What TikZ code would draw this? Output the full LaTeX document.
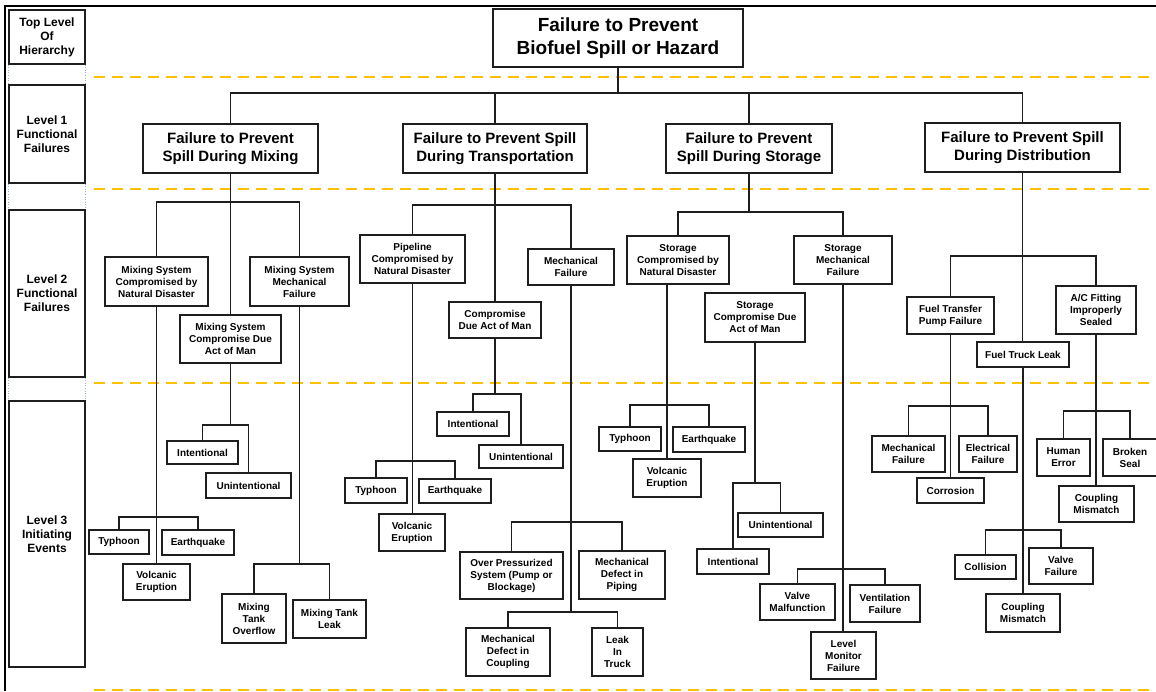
\documentclass[tikz,border=0pt]{standalone}
\usepackage{fontspec}
\setmainfont{Liberation Sans}
\definecolor{dashorange}{RGB}{255,192,0}
\definecolor{edge}{RGB}{30,30,30}
\definecolor{dotblue}{RGB}{150,180,205}
\newcommand\mybox[7][box]{\node[#1, minimum width={(#5-#3)*1pt}, minimum height={(#6-#4)*1pt}] (#2) at ({(#3+#5)/2},{(#4+#6)/2}) {#7};}
\begin{document}
\begin{tikzpicture}[x=1pt,y=-1pt,
  box/.style={draw=edge, line width=1.3pt, fill=white, align=center, inner sep=0pt, font=\bfseries\fontsize{10}{12}\selectfont},
  lvlbox/.style={box, font=\bfseries\fontsize{12}{14}\selectfont},
  onebox/.style={box, font=\bfseries\fontsize{15}{18}\selectfont},
  topbox/.style={box, font=\bfseries\fontsize{19}{22.5}\selectfont},
  conn/.style={draw=edge, line width=1.3pt},
  sep/.style={draw=dashorange, line width=2.6pt, dash pattern=on 11pt off 7pt},
  frame/.style={draw=black, line width=2pt}]
\useasboundingbox (0,0) rectangle (1156,691);
% frame
\coordinate (fTL) at (5,6);
\coordinate (fTR) at (1156,6);
\coordinate (fBL) at (5,691);
\draw[frame] (fBL) -- (fTL) -- (fTR);
% separators
\foreach \yy in {77,189,383,690}{\draw[sep] (94,\yy) -- (1156,\yy);}
% bus levels
\coordinate (y1) at (0,93);
\coordinate (ym) at (0,202);  \coordinate (yma) at (0,425); \coordinate (ymt) at (0,517); \coordinate (ymk) at (0,564);
\coordinate (yt) at (0,205);  \coordinate (yta) at (0,394); \coordinate (ytt) at (0,461); \coordinate (ytm1) at (0,522); \coordinate (ytm2) at (0,612);
\coordinate (ys) at (0,212);  \coordinate (ysn) at (0,405); \coordinate (ysa) at (0,483); \coordinate (ysm) at (0,569);
\coordinate (yd) at (0,256);  \coordinate (ydp) at (0,406); \coordinate (ydt) at (0,530); \coordinate (yda) at (0,411);

% ---------- nodes ----------
\mybox[lvlbox]{L0}{9}{10}{85}{64}{Top Level\\Of\\Hierarchy}
\mybox[lvlbox]{L1}{9}{85}{85}{183}{Level 1\\Functional\\Failures}
\mybox[lvlbox]{L2}{9}{210}{85}{377}{Level 2\\Functional\\Failures}
\mybox[lvlbox]{L3}{9}{401}{85}{667}{Level 3\\Initiating\\Events}
\draw[dotblue, dotted, line width=0.6pt] (L0.south west) -- (L1.north west) (L1.south west) -- (L2.north west) (L2.south west) -- (L3.north west);
\draw[dotblue, dotted, line width=0.6pt] (L0.south east) -- (L1.north east) (L1.south east) -- (L2.north east) (L2.south east) -- (L3.north east);

\mybox[topbox]{top}{493}{9}{743}{67}{Failure to Prevent\\Biofuel Spill or Hazard}

\mybox[onebox]{mix}{143}{124}{318}{173}{Failure to Prevent\\Spill During Mixing}
\mybox[onebox]{tra}{403}{124}{587}{173}{Failure to Prevent Spill\\During Transportation}
\mybox[onebox]{sto}{666}{124}{832}{173}{Failure to Prevent\\Spill During Storage}
\mybox[onebox]{dis}{925}{123}{1120}{172}{Failure to Prevent Spill\\During Distribution}

% mixing
\mybox{mnat}{105}{257}{208}{306}{Mixing System\\Compromised by\\Natural Disaster}
\mybox{mmech}{250}{257}{349}{306}{Mixing System\\Mechanical\\Failure}
\mybox{mact}{180}{315}{281}{363}{Mixing System\\Compromise Due\\Act of Man}
\mybox{mint}{167}{441}{238}{464}{Intentional}
\mybox{muni}{206}{473}{291}{498}{Unintentional}
\mybox{mtyp}{89}{530}{149}{554}{Typhoon}
\mybox{meq}{162}{530}{234}{555}{Earthquake}
\mybox{mvol}{123}{564}{190}{600}{Volcanic\\Eruption}
\mybox{movf}{222}{594}{286}{643}{Mixing\\Tank\\Overflow}
\mybox{mleak}{293}{600}{366}{638}{Mixing Tank\\Leak}

% transportation
\mybox{tnat}{360}{235}{465}{283}{Pipeline\\Compromised by\\Natural Disaster}
\mybox{tmech}{528}{249}{614}{285}{Mechanical\\Failure}
\mybox{tact}{449}{302}{541}{338}{Compromise\\Due Act of Man}
\mybox{tint}{437}{412}{509}{436}{Intentional}
\mybox{tuni}{479}{445}{563}{468}{Unintentional}
\mybox{ttyp}{345}{478}{407}{503}{Typhoon}
\mybox{teq}{419}{479}{491}{503}{Earthquake}
\mybox{tvol}{379}{514}{445}{551}{Volcanic\\Eruption}
\mybox{tover}{460}{552}{563}{599}{Over Pressurized\\System (Pump or\\Blockage)}
\mybox{tpipe}{579}{551}{665}{599}{Mechanical\\Defect in\\Piping}
\mybox{tcoup}{466}{628}{550}{676}{Mechanical\\Defect in\\Coupling}
\mybox{ttruck}{592}{628}{643}{676}{Leak\\In\\Truck}

% storage
\mybox{snat}{627}{236}{729}{284}{Storage\\Compromised by\\Natural Disaster}
\mybox{smech}{794}{236}{892}{284}{Storage\\Mechanical\\Failure}
\mybox{sact}{705}{293}{805}{342}{Storage\\Compromise Due\\Act of Man}
\mybox{styp}{599}{427}{661}{451}{Typhoon}
\mybox{seq}{673}{427}{745}{452}{Earthquake}
\mybox{svol}{633}{459}{701}{497}{Volcanic\\Eruption}
\mybox{suni}{738}{513}{823}{537}{Unintentional}
\mybox{sint}{697}{549}{769}{574}{Intentional}
\mybox{svalve}{760}{584}{835}{620}{Valve\\Malfunction}
\mybox{svent}{850}{585}{920}{622}{Ventilation\\Failure}
\mybox{slevel}{811}{632}{876}{679}{Level\\Monitor\\Failure}

% distribution
\mybox{dpump}{907}{297}{994}{334}{Fuel Transfer\\Pump Failure}
\mybox{dac}{1056}{286}{1136}{334}{A/C Fitting\\Improperly\\Sealed}
\mybox{dtruck}{977}{342}{1069}{367}{Fuel Truck Leak}
\mybox{dmech}{872}{436}{945}{472}{Mechanical\\Failure}
\mybox{delec}{959}{436}{1017}{472}{Electrical\\Failure}
\mybox{dcorr}{917}{478}{984}{503}{Corrosion}
\mybox{dcoll}{955}{555}{1016}{579}{Collision}
\mybox{dvalve}{1029}{548}{1093}{584}{Valve\\Failure}
\mybox{dcoupt}{986}{594}{1060}{632}{Coupling\\Mismatch}
\mybox{dhum}{1037}{439}{1090}{476}{Human\\Error}
\mybox{dseal}{1103}{439}{1157}{476}{Broken\\Seal}
\mybox{dcoupa}{1059}{486}{1134}{522}{Coupling\\Mismatch}

% ---------- connectors ----------
\draw[conn] (top.south) -- (top.south |- y1);
\draw[conn] (mix.north) -- (mix.north |- y1) -- (dis.north |- y1) -- (dis.north);
\draw[conn] (tra.north) -- (tra.north |- y1);
\draw[conn] (sto.north) -- (sto.north |- y1);

% mixing
\draw[conn] (mix.south) -- (mact.north);
\draw[conn] (mnat.north) -- (mnat.north |- ym) -- (mmech.north |- ym) -- (mmech.north);
\draw[conn] (mact.south) -- (mact.south |- yma);
\draw[conn] (mint.north) -- (mint.north |- yma) -- (muni.north |- yma) -- (muni.north);
\draw[conn] (mnat.south) -- (mvol.north);
\draw[conn] (mtyp.north) -- (mtyp.north |- ymt) -- (meq.north |- ymt) -- (meq.north);
\draw[conn] (mmech.south) -- (mmech.south |- ymk);
\draw[conn] (movf.north) -- (movf.north |- ymk) -- (mleak.north |- ymk) -- (mleak.north);

% transportation
\draw[conn] (tra.south) -- (tact.north);
\draw[conn] (tnat.north) -- (tnat.north |- yt) -- (tmech.north |- yt) -- (tmech.north);
\draw[conn] (tact.south) -- (tact.south |- yta);
\draw[conn] (tint.north) -- (tint.north |- yta) -- (tuni.north |- yta) -- (tuni.north);
\draw[conn] (tnat.south) -- (tnat.south |- tvol.north);
\draw[conn] (ttyp.north) -- (ttyp.north |- ytt) -- (teq.north |- ytt) -- (teq.north);
\draw[conn] (tmech.south) -- (tmech.south |- ytm2);
\draw[conn] (tover.north) -- (tover.north |- ytm1) -- (tpipe.north |- ytm1) -- (tpipe.north);
\draw[conn] (tcoup.north) -- (tcoup.north |- ytm2) -- (ttruck.north |- ytm2) -- (ttruck.north);

% storage
\draw[conn] (sto.south) -- (sto.south |- ys);
\draw[conn] (snat.north) -- (snat.north |- ys) -- (smech.north |- ys) -- (smech.north);
\draw[conn] (snat.south -| svol.north) -- (svol.north);
\draw[conn] (styp.north) -- (styp.north |- ysn) -- (seq.north |- ysn) -- (seq.north);
\draw[conn] (sact.south) -- (sact.south |- ysa);
\draw[conn] (sint.north) -- (sint.north |- ysa) -- (suni.north |- ysa) -- (suni.north);
\draw[conn] (smech.south) -- (smech.south |- slevel.north);
\draw[conn] (svalve.north) -- (svalve.north |- ysm) -- (svent.north |- ysm) -- (svent.north);

% distribution
\draw[conn] (dis.south) -- (dis.south |- dtruck.north);
\draw[conn] (dpump.north) -- (dpump.north |- yd) -- (dac.north |- yd) -- (dac.north);
\draw[conn] (dpump.south) -- (dpump.south |- dcorr.north);
\draw[conn] (dmech.north) -- (dmech.north |- ydp) -- (delec.north |- ydp) -- (delec.north);
\draw[conn] (dtruck.south) -- (dtruck.south |- dcoupt.north);
\draw[conn] (dcoll.north) -- (dcoll.north |- ydt) -- (dvalve.north |- ydt) -- (dvalve.north);
\draw[conn] (dac.south) -- (dac.south |- dcoupa.north);
\draw[conn] (dhum.north) -- (dhum.north |- yda) -- (dseal.north |- yda) -- (dseal.north);
\end{tikzpicture}
\end{document}
